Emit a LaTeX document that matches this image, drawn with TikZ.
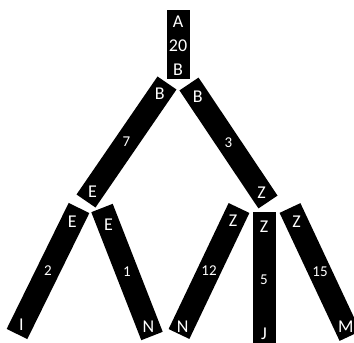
\documentclass[tikz,border=0pt]{standalone}
\usepackage{fontspec}
\setmainfont{Carlito}

\begin{document}
\begin{tikzpicture}[x=1pt, y=-1pt,
    bar/.style={line width=23pt, line cap=butt, black},
    lbl/.style={text=white, inner sep=0pt, font=\fontsize{18}{18}\selectfont},
    num/.style={text=white, inner sep=0pt, font=\fontsize{15}{15}\selectfont}]
    \useasboundingbox (0,0) rectangle (354,343);
    \clip (0,0) rectangle (354,343);

    % extremos de las barras
    \coordinate (a0) at (178,10);   \coordinate (a1) at (178,79);
    \coordinate (be0) at (167,83);  \coordinate (be1) at (86,201);
    \coordinate (bz0) at (189,84);  \coordinate (bz1) at (268,202);
    \coordinate (ei0) at (79,208);  \coordinate (ei1) at (17,334);
    \coordinate (en0) at (102,208); \coordinate (en1) at (152,336);
    \coordinate (zn0) at (239,208); \coordinate (zn1) at (179,334);
    \coordinate (zj0) at (264,212); \coordinate (zj1) at (264,350);
    \coordinate (zm0) at (290,208); \coordinate (zm1) at (350,336);

    \draw[bar] (a0) -- (a1) node[lbl, pos=0.17] (la) {A} node[lbl, pos=0.52] (l20) {20} node[lbl, pos=0.87] (lab) {B};
    \draw[bar] (be0) -- (be1) node[lbl, pos=0.09] (lbe) {B} node[num, pos=0.5] (l7) {7} node[lbl, pos=0.92] (leb) {E};
    \draw[bar] (bz0) -- (bz1) node[lbl, pos=0.11] (lbz) {B} node[num, pos=0.5] (l3) {3} node[lbl, pos=0.92] (lzb) {Z};
    \draw[bar] (ei0) -- (ei1) node[lbl, pos=0.11] (lei) {E} node[num, pos=0.5] (l2) {2} node[lbl, pos=0.93] (li) {I};
    \draw[bar] (en0) -- (en1) node[lbl, pos=0.13] (len) {E} node[num, pos=0.5] (l1) {1} node[lbl, pos=0.93] (lne) {N};
    \draw[bar] (zn0) -- (zn1) node[lbl, pos=0.1] (lzn) {Z} node[num, pos=0.5] (l12) {12} node[lbl, pos=0.94] (lnz) {N};
    \draw[bar] (zj0) -- (zj1) node[lbl, pos=0.11] (lzj) {Z} node[num, pos=0.49] (l5) {5} node[lbl, pos=0.88] (lj) {J};
    \draw[bar] (zm0) -- (zm1) node[lbl, pos=0.11] (lzm) {Z} node[num, pos=0.5] (l15) {15} node[lbl, pos=0.93] (lm) {M};
\end{tikzpicture}
\end{document}
